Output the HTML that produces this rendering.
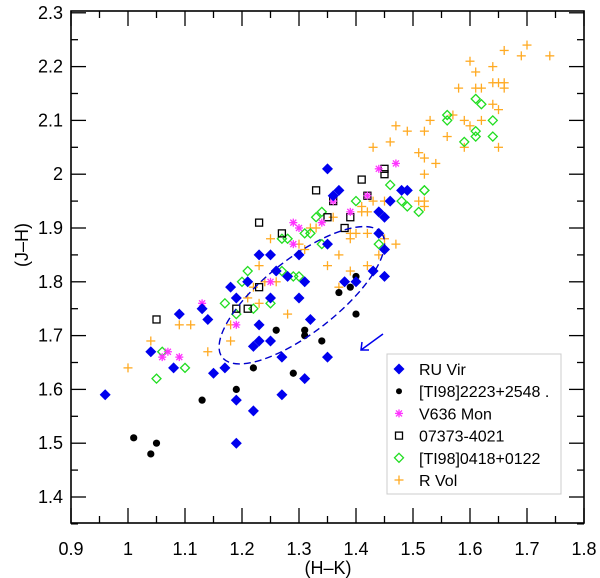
<!DOCTYPE html>
<html><head><meta charset="utf-8"><style>
html,body{margin:0;padding:0;background:#fff;}
svg{display:block;font-family:"Liberation Sans",sans-serif;}
</style></head><body>
<svg id="chart" width="600" height="578" viewBox="0 0 600 578">
<g id="marks"></g>
<g id="axes"></g>
</svg>
<script>
const xTicks=[0.9,1,1.1,1.2,1.3,1.4,1.5,1.6,1.7,1.8];
const xTickLabels=["0.9","1","1.1","1.2","1.3","1.4","1.5","1.6","1.7","1.8"];
const yTicks=[1.4,1.5,1.6,1.7,1.8,1.9,2.0,2.1,2.2,2.3];
const yTickLabels=["1.4","1.5","1.6","1.7","1.8","1.9","2","2.1","2.2","2.3"];
const ruVirX=[1.35,1.37,1.36,1.35,1.23,1.25,1.30,1.26,1.28,1.31,1.21,1.18,1.19,1.25,1.30,1.38,1.09,1.13,1.14,1.23,1.32,1.23,1.25,1.22,1.27,1.35,1.04,1.08,1.15,1.17,1.31,0.96,1.19,1.27,1.22,1.19,1.48,1.49,1.46,1.44,1.45,1.44,1.45,1.43,1.45,1.40];
const ruVirY=[2.01,1.97,1.96,1.87,1.85,1.85,1.85,1.82,1.81,1.80,1.80,1.79,1.77,1.77,1.77,1.80,1.74,1.75,1.73,1.72,1.73,1.69,1.69,1.68,1.66,1.66,1.67,1.64,1.63,1.64,1.62,1.59,1.58,1.59,1.56,1.50,1.97,1.97,1.95,1.93,1.92,1.89,1.86,1.82,1.81,1.80];
const tiaX=[1.37,1.26,1.31,1.31,1.34,1.22,1.29,1.19,1.13,1.01,1.05,1.04,1.40,1.39,1.40];
const tiaY=[1.78,1.71,1.71,1.70,1.69,1.64,1.63,1.60,1.58,1.51,1.50,1.48,1.81,1.79,1.74];
const monX=[1.29,1.30,1.34,1.29,1.25,1.19,1.13,1.07,1.06,1.09,1.39,1.44,1.47,1.36,1.42];
const monY=[1.91,1.90,1.91,1.87,1.80,1.72,1.76,1.67,1.66,1.66,1.93,2.01,2.02,1.95,1.96];
const sqX=[1.33,1.23,1.27,1.35,1.38,1.23,1.19,1.21,1.05,1.41,1.45,1.45,1.39,1.36,1.42];
const sqY=[1.97,1.91,1.89,1.92,1.90,1.79,1.75,1.75,1.73,1.99,2.01,2.00,1.92,1.95,1.96];
const tibX=[1.34,1.33,1.31,1.32,1.27,1.28,1.34,1.21,1.27,1.29,1.30,1.20,1.17,1.25,1.22,1.19,1.06,1.10,1.05,1.40,1.46,1.48,1.49,1.51,1.52,1.44,1.61,1.62,1.56,1.56,1.64,1.61,1.61,1.59,1.64,1.52];
const tibY=[1.93,1.92,1.89,1.89,1.88,1.88,1.87,1.82,1.82,1.81,1.81,1.80,1.76,1.76,1.75,1.74,1.67,1.64,1.62,1.95,1.98,1.95,1.94,1.93,1.97,1.87,2.14,2.13,2.11,2.10,2.10,2.08,2.07,2.06,2.07,1.97];
const rvolX=[1.70,1.66,1.69,1.74,1.60,1.64,1.61,1.64,1.65,1.66,1.66,1.58,1.61,1.62,1.64,1.65,1.57,1.53,1.59,1.62,1.60,1.52,1.56,1.59,1.65,1.52,1.54,1.52,1.47,1.49,1.43,1.46,1.51,1.51,1.52,1.52,1.43,1.45,1.41,1.41,1.42,1.36,1.32,1.33,1.31,1.39,1.40,1.42,1.39,1.45,1.47,1.37,1.44,1.35,1.39,1.42,1.37,1.25,1.30,1.23,1.24,1.26,1.22,1.21,1.23,1.28,1.18,1.09,1.11,1.04,1.18,1.14,1.00];
const rvolY=[2.24,2.23,2.22,2.22,2.21,2.20,2.19,2.17,2.17,2.17,2.16,2.16,2.16,2.16,2.13,2.12,2.11,2.10,2.10,2.10,2.09,2.08,2.07,2.05,2.05,2.03,2.02,2.00,2.09,2.08,2.05,2.06,2.04,1.95,1.95,1.94,1.95,1.95,1.94,1.93,1.93,1.92,1.90,1.90,1.86,1.89,1.89,1.89,1.88,1.88,1.87,1.85,1.85,1.83,1.82,1.83,1.79,1.88,1.87,1.83,1.80,1.80,1.79,1.77,1.76,1.74,1.72,1.72,1.72,1.69,1.69,1.67,1.64];

const NS="http://www.w3.org/2000/svg";
const X0=71,X1=584,Y0=11,Y1=523;
function sx(v){return 71+(v-0.9)*570;}
function sy(v){return 497-(v-1.4)*538;}
function mk(tag,attrs,parent){const e=document.createElementNS(NS,tag);for(const k in attrs)e.setAttribute(k,attrs[k]);parent.appendChild(e);return e;}
const marks=document.getElementById('marks');
const axes=document.getElementById('axes');

function drawMarker(type,cx,cy,parent){
  let e;
  if(type==='ruvir'){e=mk('polygon',{points:`${cx},${cy-5.5} ${cx+5.5},${cy} ${cx},${cy+5.5} ${cx-5.5},${cy}`,fill:'#0000ee'},parent);}
  else if(type==='tia'){e=mk('circle',{cx:cx,cy:cy,r:3.6,fill:'#000'},parent);}
  else if(type==='mon'){e=mk('g',{stroke:'#ff33ff','stroke-width':1.3},parent);
    mk('line',{x1:cx-4,y1:cy,x2:cx+4,y2:cy},e);mk('line',{x1:cx,y1:cy-4,x2:cx,y2:cy+4},e);
    mk('line',{x1:cx-3,y1:cy-3,x2:cx+3,y2:cy+3},e);mk('line',{x1:cx-3,y1:cy+3,x2:cx+3,y2:cy-3},e);}
  else if(type==='sq'){e=mk('rect',{x:cx-3.5,y:cy-3.5,width:7,height:7,fill:'none',stroke:'#000','stroke-width':1.3},parent);}
  else if(type==='tib'){e=mk('polygon',{points:`${cx},${cy-4.5} ${cx+4.5},${cy} ${cx},${cy+4.5} ${cx-4.5},${cy}`,fill:'none',stroke:'#22dd22','stroke-width':1.3},parent);}
  else {e=mk('g',{stroke:'#ffaa22','stroke-width':1.3},parent);
    mk('line',{x1:cx-4.5,y1:cy,x2:cx+4.5,y2:cy},e);mk('line',{x1:cx,y1:cy-4.5,x2:cx,y2:cy+4.5},e);}
  return e;
}
const series=[['rvol',rvolX,rvolY],['tib',tibX,tibY],['sq',sqX,sqY],['mon',monX,monY],['tia',tiaX,tiaY],['ruvir',ruVirX,ruVirY]];
series.forEach(([t,xs,ys])=>{
  const g=mk('g',{},marks);
  
  
  xs.forEach((v,i)=>{const m=drawMarker(t,sx(v),sy(ys[i]),g);
    
    });
});

const ecx=sx(1.305),ecy=sy(1.775);
const ell=mk('ellipse',{cx:ecx,cy:ecy,rx:101,ry:37,fill:'none',stroke:'#0000cc','stroke-width':1.4,'stroke-dasharray':'7,4',transform:`rotate(-38 ${ecx} ${ecy})`},marks);


const arr=mk('g',{stroke:'#0000ee','stroke-width':1.5,fill:'none'},marks);


mk('line',{x1:383,y1:334,x2:361,y2:350},arr);
mk('polyline',{points:'362,342 361,350 369,350'},arr);

const fr=mk('rect',{x:X0,y:Y0,width:X1-X0,height:Y1-Y0,fill:'none',stroke:'#000','stroke-width':1.6},axes);


for(let i=0;i<xTicks.length;i++){
  const x=sx(xTicks[i]);
  mk('line',{x1:x,y1:Y1,x2:x,y2:Y1-15,stroke:'#000','stroke-width':1.3},axes);
  mk('line',{x1:x,y1:Y0,x2:x,y2:Y0+15,stroke:'#000','stroke-width':1.3},axes);
  if(i<xTicks.length-1){const xm=sx(xTicks[i]+0.05);
    mk('line',{x1:xm,y1:Y1,x2:xm,y2:Y1-7,stroke:'#000','stroke-width':1.3},axes);
    mk('line',{x1:xm,y1:Y0,x2:xm,y2:Y0+7,stroke:'#000','stroke-width':1.3},axes);}
  const t=mk('text',{x:x,y:555,'text-anchor':'middle','font-size':18},axes);t.textContent=xTickLabels[i];
  
  
}
for(let i=0;i<yTicks.length;i++){
  const y=sy(yTicks[i]);
  mk('line',{x1:X0,y1:y,x2:X0+15,y2:y,stroke:'#000','stroke-width':1.3},axes);
  mk('line',{x1:X1,y1:y,x2:X1-15,y2:y,stroke:'#000','stroke-width':1.3},axes);
  const ym=sy(yTicks[i]-0.05);
  mk('line',{x1:X0,y1:ym,x2:X0+7,y2:ym,stroke:'#000','stroke-width':1.3},axes);
  mk('line',{x1:X1,y1:ym,x2:X1-7,y2:ym,stroke:'#000','stroke-width':1.3},axes);
  const t=mk('text',{x:63,y:y+6,'text-anchor':'end','font-size':18},axes);t.textContent=yTickLabels[i];
  
  
}
const xl=mk('text',{x:328,y:574,'text-anchor':'middle','font-size':18},axes);xl.textContent='(H–K)';


const yl=mk('text',{x:0,y:0,'text-anchor':'middle','font-size':18,transform:'translate(28,245) rotate(-90)'},axes);yl.textContent='(J–H)';



const lg=mk('g',{},axes);


mk('rect',{x:387,y:354,width:174,height:140,fill:'#fff',stroke:'#ccc','stroke-width':1},lg);
const legNames=['RU Vir','[TI98]2223+2548 .','V636 Mon','07373-4021','[TI98]0418+0122','R Vol'];
const legTypes=['ruvir','tia','mon','sq','tib','rvol'];
legNames.forEach((n,i)=>{
  const y=369+i*22.2;
  const e=mk('g',{},lg);
  
  
  const m=drawMarker(legTypes[i],399,y,e);
  if(legTypes[i]==='tia')m.setAttribute('r',3);
  const t=mk('text',{x:419,y:y+6,'font-size':16},e);t.textContent=n;
});
</script>
</body></html>
